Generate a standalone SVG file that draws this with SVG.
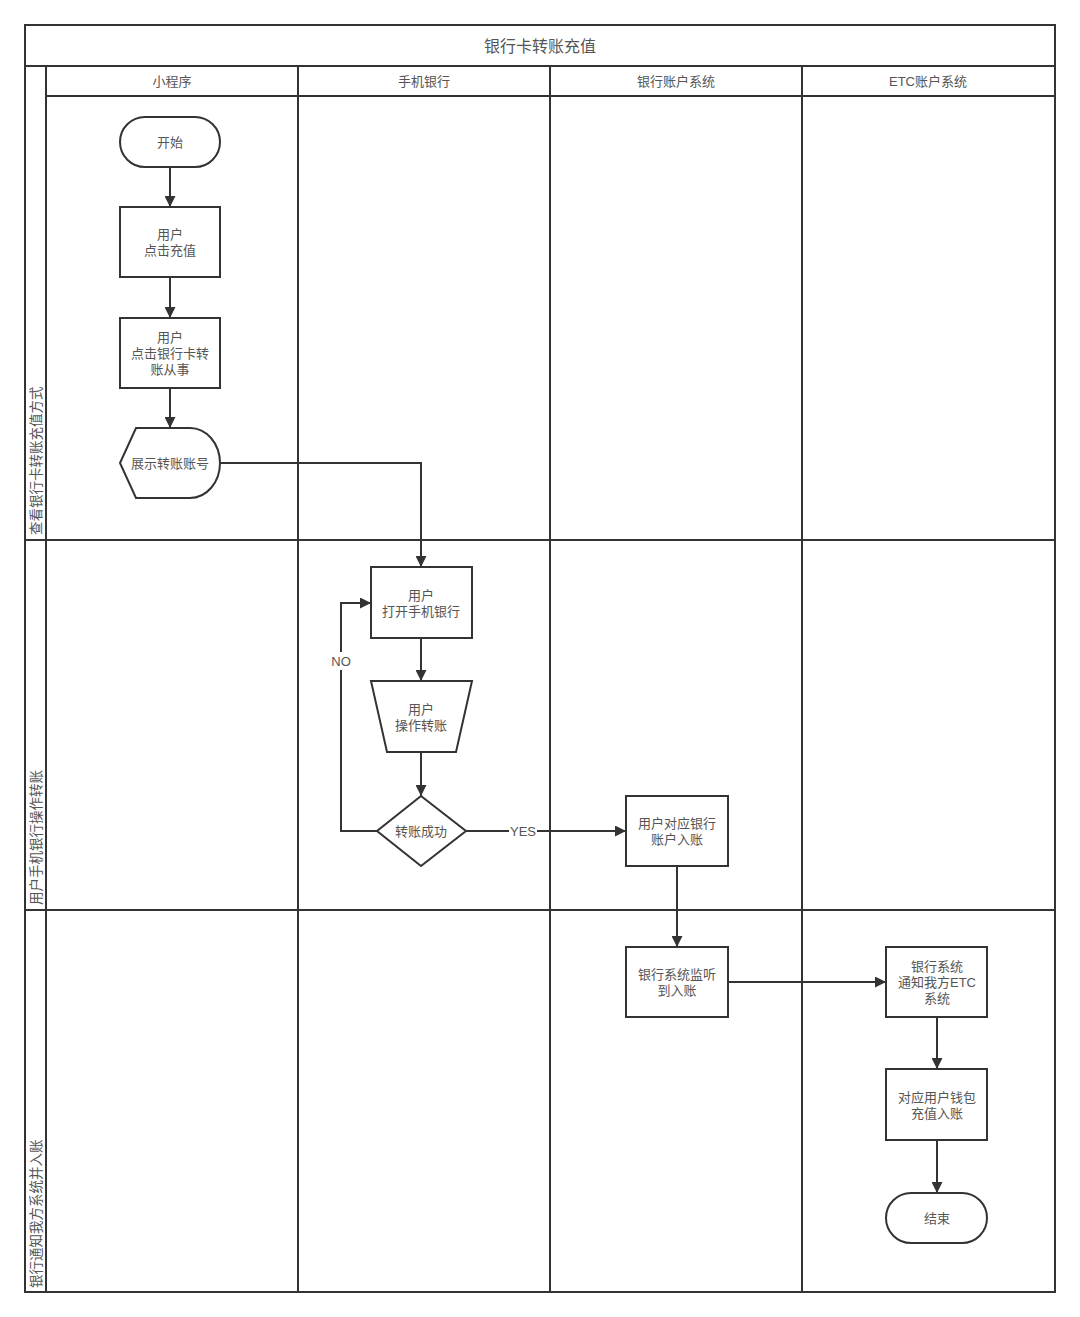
<svg xmlns="http://www.w3.org/2000/svg" width="1080" height="1317" viewBox="0 0 1080 1317">
<defs>
<style>
.ln{fill:none;stroke:#333;stroke-width:2}
.nd{fill:#fff;stroke:#333;stroke-width:2}
.t{font-family:"Liberation Sans","Noto Sans CJK SC",sans-serif;font-size:13px;fill:#555;text-anchor:middle;dominant-baseline:central}
.h{font-size:13px}
.ttl{font-size:16px}
.lane{font-family:"Liberation Sans","Noto Sans CJK SC",sans-serif;font-size:13.5px;fill:#555;text-anchor:start;dominant-baseline:central}
.cn{fill:none;stroke:#333;stroke-width:2;marker-end:url(#ah)}
</style>
<marker id="ah" viewBox="0 0 10 10" refX="10" refY="5" markerWidth="12" markerHeight="11" markerUnits="userSpaceOnUse" orient="auto">
<path d="M0,0 L10,5 L0,10 Z" fill="#333"/>
</marker>
</defs>
<rect width="1080" height="1317" fill="#fff"/>
<g id="pool">
<rect class="ln" x="25" y="25" width="1030" height="1267"/>
<line class="ln" x1="25" y1="66" x2="1055" y2="66"/>
<line class="ln" x1="46" y1="96" x2="1055" y2="96"/>
<line class="ln" x1="46" y1="66" x2="46" y2="1292"/>
<line class="ln" x1="298" y1="66" x2="298" y2="1292"/>
<line class="ln" x1="550" y1="66" x2="550" y2="1292"/>
<line class="ln" x1="802" y1="66" x2="802" y2="1292"/>
<line class="ln" x1="25" y1="540" x2="1055" y2="540"/>
<line class="ln" x1="25" y1="910" x2="1055" y2="910"/>
<text class="t ttl" x="540" y="46">银行卡转账充值</text>
<text class="t h" x="172" y="81">小程序</text>
<text class="t h" x="424" y="81">手机银行</text>
<text class="t h" x="676" y="81">银行账户系统</text>
<text class="t h" x="928" y="81">ETC账户系统</text>
<text class="lane" transform="translate(36,535) rotate(-90)">查看银行卡转账充值方式</text>
<text class="lane" transform="translate(36,905) rotate(-90)">用户手机银行操作转账</text>
<text class="lane" transform="translate(36,1288) rotate(-90)">银行通知我方系统并入账</text>
</g>
<g id="connectors">
<line class="cn" x1="170" y1="167" x2="170" y2="207"/>
<line class="cn" x1="170" y1="277" x2="170" y2="318"/>
<line class="cn" x1="170" y1="388" x2="170" y2="428"/>
<polyline class="cn" points="220,463 421,463 421,567"/>
<line class="cn" x1="421" y1="638" x2="421" y2="681"/>
<line class="cn" x1="421" y1="752" x2="421" y2="796"/>
<polyline class="cn" points="377,831 341,831 341,603 371,603"/>
<line class="cn" x1="466" y1="831" x2="626" y2="831"/>
<line class="cn" x1="677" y1="866" x2="677" y2="947"/>
<line class="cn" x1="728" y1="982" x2="886" y2="982"/>
<line class="cn" x1="937" y1="1017" x2="937" y2="1069"/>
<line class="cn" x1="937" y1="1140" x2="937" y2="1193"/>
<rect x="329" y="652" width="24" height="18" fill="#fff"/>
<text class="t" x="341" y="661">NO</text>
<rect x="509" y="822" width="28" height="18" fill="#fff"/>
<text class="t" x="523" y="831">YES</text>
</g>
<g id="start">
<rect class="nd" x="120" y="117" width="100" height="50" rx="25"/>
<text class="t" x="170" y="142">开始</text>
</g>
<g id="click-recharge">
<rect class="nd" x="120" y="207" width="100" height="70"/>
<text class="t" x="170" y="234">用户<tspan x="170" dy="16">点击充值</tspan></text>
</g>
<g id="click-bank">
<rect class="nd" x="120" y="318" width="100" height="70"/>
<text class="t" x="170" y="337">用户<tspan x="170" dy="16">点击银行卡转</tspan><tspan x="170" dy="16">账从事</tspan></text>
</g>
<g id="show-account">
<path class="nd" d="M136,428 H190 A30,35 0 0 1 190,498 H136 L120,463 Z"/>
<text class="t" x="170" y="463">展示转账账号</text>
</g>
<g id="open-bank">
<rect class="nd" x="371" y="567" width="101" height="71"/>
<text class="t" x="421" y="595">用户<tspan x="421" dy="16">打开手机银行</tspan></text>
</g>
<g id="operate">
<path class="nd" d="M371,681 H472 L456,752 H387 Z"/>
<text class="t" x="421" y="709">用户<tspan x="421" dy="16">操作转账</tspan></text>
</g>
<g id="decision">
<path class="nd" d="M421,796 L466,831 L421,866 L377,831 Z"/>
<text class="t" x="421" y="831">转账成功</text>
</g>
<g id="bank-credit">
<rect class="nd" x="626" y="796" width="102" height="70"/>
<text class="t" x="677" y="823">用户对应银行<tspan x="677" dy="16">账户入账</tspan></text>
</g>
<g id="bank-monitor">
<rect class="nd" x="626" y="947" width="102" height="70"/>
<text class="t" x="677" y="974">银行系统监听<tspan x="677" dy="16">到入账</tspan></text>
</g>
<g id="notify-etc">
<rect class="nd" x="886" y="947" width="101" height="70"/>
<text class="t" x="937" y="966">银行系统<tspan x="937" dy="16">通知我方ETC</tspan><tspan x="937" dy="16">系统</tspan></text>
</g>
<g id="wallet">
<rect class="nd" x="886" y="1069" width="101" height="71"/>
<text class="t" x="937" y="1097">对应用户钱包<tspan x="937" dy="16">充值入账</tspan></text>
</g>
<g id="end">
<rect class="nd" x="886" y="1193" width="101" height="50" rx="25"/>
<text class="t" x="937" y="1218">结束</text>
</g>
</svg>
